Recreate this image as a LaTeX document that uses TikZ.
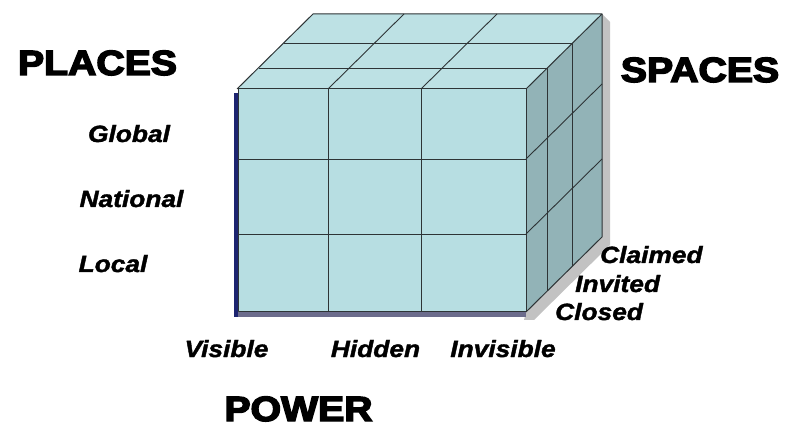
\documentclass[tikz,border=0pt]{standalone}
\usepackage{fontspec}
\setmainfont{Liberation Sans}
\newfontfamily\heavyfont[FakeBold=4]{Liberation Sans Bold}
\newfontfamily\labfont[FakeBold=1.5]{Liberation Sans Bold Italic}
\definecolor{frontc}{HTML}{B7DEE2}
\definecolor{topc}{HTML}{BDE1E4}
\definecolor{rightc}{HTML}{92B3B7}
\definecolor{gridc}{HTML}{2E3436}
\definecolor{shadowc}{HTML}{C2C2C2}
\definecolor{navyc}{HTML}{1C2470}
\definecolor{slatec}{HTML}{6C6C8C}
\tikzset{
  head/.style={anchor=base, inner sep=0pt, text depth=0pt, font=\heavyfont\fontsize{35}{35}\selectfont},
  lab/.style={anchor=base, inner sep=0pt, font=\labfont\fontsize{23.5}{24}\selectfont},
  labw/.style={lab, anchor=base west},
  gridline/.style={draw=gridc, line width=0.9pt},
  edge/.style={draw=gridc, line width=1pt, line join=round}
}
\begin{document}
\begin{tikzpicture}[x=1pt,y=-1pt]
\useasboundingbox (0,0) rectangle (790,430);
% shadow
\fill[shadowc] (526,312) -- (602,237) -- (602,14) -- (610,22) -- (610,245) -- (534,320) -- (524,320) -- cycle;
% edge strips
\fill[navyc] (234,93) rectangle (238.5,317);
\fill[slatec] (238,311) rectangle (526,317);
% faces
\fill[topc] (237,89) -- (526,89) -- (602,14) -- (313,14) -- cycle;
\fill[rightc] (526,89) -- (602,14) -- (602,237) -- (526,312) -- cycle;
\fill[frontc] (238,89) rectangle (526,312);
% top grid
\draw[gridline] (259,68) -- (548,68);
\draw[gridline] (284,43) -- (573,43);
\draw[gridline] (328,89) -- (404,14);
\draw[gridline] (421,89) -- (497,14);
% right grid
\draw[gridline] (547,68) -- (547,291);
\draw[gridline] (572,43) -- (572,266);
\draw[gridline] (526,159) -- (602,84);
\draw[gridline] (526,234) -- (602,159);
% front grid
\draw[gridline] (328,89) -- (328,312);
\draw[gridline] (421,89) -- (421,312);
\draw[gridline] (238,159) -- (526,159);
\draw[gridline] (238,234) -- (526,234);
% outlines
\draw[edge] (237,89) -- (313,14) -- (602,14) -- (526,89);
\draw[edge] (602,14) -- (602,237) -- (526,312);
\draw[edge] (238,89) rectangle (526,312);
% headings
\node[head] (places) at (97.5,75) {\scalebox{1.12}[1]{PLACES}};
\node[head] (spaces) at (700,82) {\scalebox{1.12}[1]{SPACES}};
\node[head] (power) at (298.5,421) {\scalebox{1.12}[1]{POWER}};
% place labels
\node[lab] (global) at (129,142) {\scalebox{1.12}[1]{Global}};
\node[lab] (national) at (131.5,207) {\scalebox{1.12}[1]{National}};
\node[lab] (local) at (113,272) {\scalebox{1.12}[1]{Local}};
% power labels
\node[lab] (visible) at (226.5,357) {\scalebox{1.12}[1]{Visible}};
\node[lab] (hidden) at (375.5,357) {\scalebox{1.12}[1]{Hidden}};
\node[lab] (invisible) at (503,357) {\scalebox{1.12}[1]{Invisible}};
% space labels
\node[labw] (claimed) at (600,263) {\scalebox{1.12}[1]{Claimed}};
\node[labw] (invited) at (575,292) {\scalebox{1.12}[1]{Invited}};
\node[labw] (closed) at (555,320) {\scalebox{1.12}[1]{Closed}};
\end{tikzpicture}
\end{document}
